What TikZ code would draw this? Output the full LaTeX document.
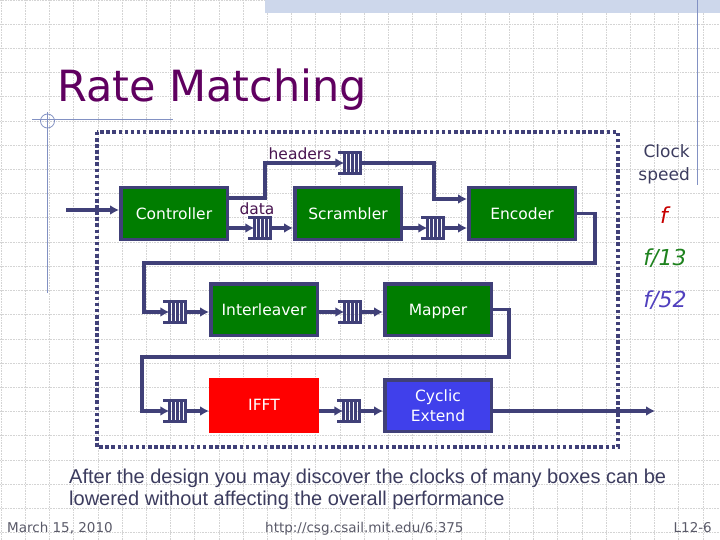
\documentclass[tikz,border=0pt]{standalone}
\usepackage{fontspec}
\setmainfont{DejaVu Sans}
\newfontfamily\arialf{Liberation Sans}
\usetikzlibrary{arrows.meta,calc}
\definecolor{navy}{RGB}{64,64,120}
\definecolor{dgreen}{RGB}{0,125,0}
\definecolor{cycblue}{RGB}{64,64,235}
\definecolor{ttlpurple}{RGB}{96,0,96}
\definecolor{lblpurple}{RGB}{72,20,80}
\definecolor{gridgray}{RGB}{212,212,212}
\definecolor{decoblue}{RGB}{130,145,195}
\definecolor{bandblue}{RGB}{205,215,235}
\definecolor{txtnavy}{RGB}{60,60,95}
\definecolor{footgray}{RGB}{90,90,105}
\definecolor{fred}{RGB}{200,0,0}
\definecolor{fgreen}{RGB}{30,130,30}
\definecolor{fblue}{RGB}{80,64,190}
\tikzset{
  blockbase/.style={draw=navy, line width=3.5pt, fill=dgreen, text=white, minimum width=106.5pt,
    minimum height=51.5pt, inner sep=0pt, font=\fontsize{15.5}{20}\selectfont},
  block/.style={blockbase, text height=13pt, text depth=2pt},
  fifo/.style={draw=navy, line width=2.6pt, minimum width=16.5pt, minimum height=21.5pt,
    inner sep=0pt, outer sep=0pt},
  fifobar/.style={draw=navy, line width=2.6pt},
  wire/.style={draw=navy, line width=3.6pt},
  conn/.style={wire, -{Latex[length=9pt,width=10pt]}},
  lbl/.style={inner sep=0pt, text=lblpurple, font=\fontsize{15.5}{18}\selectfont},
  flbl/.style={inner sep=0pt, font=\fontsize{22}{24}\selectfont\itshape},
  foot/.style={inner sep=0pt, text=footgray, font=\fontsize{13.5}{16}\selectfont},
  bottomtxt/.style={inner sep=0pt, text=txtnavy, font=\arialf\fontsize{20}{22}\selectfont},
}
\begin{document}
\begin{tikzpicture}[x=1pt,y=-1pt]
\useasboundingbox (0,0) rectangle (720,540);
\fill[white] (0,0) rectangle (720,540);
% grid
\foreach \i in {0,...,29} \draw[gridgray, line width=0.6pt, densely dotted] ({1+24.2*\i},0) -- ({1+24.2*\i},540);
\foreach \j in {0,...,22} \draw[gridgray, line width=0.6pt, densely dotted] (0,{24.2*\j}) -- (720,{24.2*\j});
% slide decoration
\fill[bandblue] (265,0) rectangle (720,13);
\draw[decoblue, line width=0.8pt] (697,0) -- (697,185);
\draw[decoblue, line width=0.8pt] (47.5,112) -- (47.5,293);
\draw[decoblue, line width=0.8pt] (32,119) -- (173,119);
\draw[decoblue, line width=0.8pt] (47.5,121) circle (7);
% title
\node[anchor=base west, inner sep=0pt, text=ttlpurple, font=\fontsize{43}{48}\selectfont] (title) at (57,102) {Rate Matching};
% dotted border
\draw[navy, line width=3.5pt, dash pattern=on 3.5pt off 2.6pt] (97,132) rectangle (618,447);
% blocks
\node[block] (ctrl) at (174,213.5) {Controller};
\node[block] (scr) at (348,213.5) {Scrambler};
\node[block] (enc) at (522,213.5) {Encoder};
\node[block] (intl) at (264,309.5) {Interleaver};
\node[block] (map) at (438,309.5) {Mapper};
\node[block, draw=red, fill=red] (ifft) at (264,405) {IFFT};
\node[blockbase, fill=cycblue, align=center] (cyc) at (438,405.5) {Cyclic\\Extend};
% fifos
\node[fifo] (fh) at (352.5,163) {};
\node[fifo] (fd) at (262.5,228) {};
\node[fifo] (fs) at (435.5,228) {};
\node[fifo] (fi) at (177.5,312) {};
\node[fifo] (fm) at (352.5,312) {};
\node[fifo] (ff) at (177.5,411) {};
\node[fifo] (fc) at (351.5,411) {};
\foreach \f in {fh,fd,fs,fi,fm,ff,fc} {
  \foreach \k in {1,2,3}
    \draw[fifobar] ($(\f.north west)!\k/4!(\f.north east)$) -- ($(\f.south west)!\k/4!(\f.south east)$);
  \draw[fifobar] (\f.north west) -- ++(-6,0);
  \draw[fifobar] (\f.south west) -- ++(-6,0);
}
% bend points
\coordinate (in) at (66,210);
\coordinate (out) at (655,411);
\coordinate (b1) at (595,263);
\coordinate (b2) at (144,263);
\coordinate (b3) at (509,357);
\coordinate (b4) at (142,357);
% connectors
\draw[conn] (in) -- (in -| ctrl.west);
\draw[conn] ($(ctrl.east)+(0,-15.5)$) -- ++(36,0) |- (fh.west);
\draw[conn] (fd.west -| ctrl.east) -- (fd.west);
\draw[conn] (fd.east) -- (fd.east -| scr.west);
\draw[conn] (fh.east) -| ($(enc.west)+(-33,-14.5)$) -- ($(enc.west)+(0,-14.5)$);
\draw[conn] (fs.west -| scr.east) -- (fs.west);
\draw[conn] (fs.east) -- (fs.east -| enc.west);
\draw[conn] (enc.east) -| (b1) -- (b2) |- (fi.west);
\draw[conn] (fi.east) -- (fi.east -| intl.west);
\draw[conn] (fm.west -| intl.east) -- (fm.west);
\draw[conn] (fm.east) -- (fm.east -| map.west);
\draw[conn] (map.east) -| (b3) -- (b4) |- (ff.west);
\draw[conn] (ff.east) -- (ff.east -| ifft.west);
\draw[conn] (fc.west -| ifft.east) -- (fc.west);
\draw[conn] (fc.east) -- (fc.east -| cyc.west);
\draw[conn] (out -| cyc.east) -- (out);
% labels
\node[lbl] (lh) at (300,154) {headers};
\node[lbl] (ld) at (257,209) {data};
\node[anchor=east, align=right, inner sep=0pt, text=txtnavy, font=\fontsize{17}{23}\selectfont] (clk) at (690,164.5) {Clock\\speed};
\node[flbl, text=fred] (f1) at (664,215) {f};
\node[flbl, text=fgreen] (f2) at (665,258) {f/13};
\node[flbl, text=fblue] (f3) at (665,300) {f/52};
% bottom text
\node[bottomtxt, anchor=base west] (t1) at (69,483) {After the design you may discover the clocks of many boxes can be};
\node[bottomtxt, anchor=base west] (t2) at (69,505) {lowered without affecting the overall performance};
% footer
\node[foot, anchor=base west] (d) at (7,532) {March 15, 2010};
\node[foot, anchor=base west] (u) at (265,532) {http://csg.csail.mit.edu/6.375};
\node[foot, anchor=base east] (p) at (712,532) {L12-6};
\end{tikzpicture}
\end{document}
